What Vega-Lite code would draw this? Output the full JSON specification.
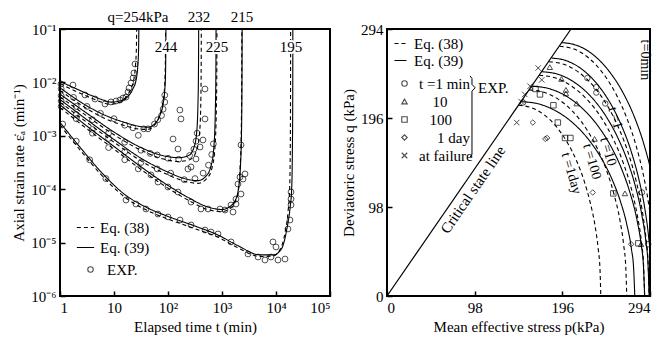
{
"$schema": "https://vega.github.io/schema/vega-lite/v6.json",
"padding": {"left": 10, "top": 8, "right": 5, "bottom": 2},
"background": "white",
"config": {
 "font": "Liberation Serif",
 "view": {"stroke": "black", "strokeWidth": 2},
 "axis": {"grid": false, "domain": false, "tickSize": -5, "tickWidth": 1.5, "tickColor": "black", "labelFont": "Liberation Serif", "labelFontSize": 15, "labelColor": "black", "labelPadding": 9, "titleFont": "Liberation Serif", "titleFontSize": 15, "titleFontWeight": "normal", "titleColor": "black", "titlePadding": 4},
 "legend": {"labelFont": "Liberation Serif", "labelFontSize": 15, "labelColor": "black", "padding": 0, "symbolStrokeColor": "black", "symbolStrokeWidth": 1.1}
},
"datasets": {
 "lc": [
  {"q":"254","e":"39","t":1,"r":0.01047},{"q":"254","e":"39","t":1.995,"r":0.007586},{"q":"254","e":"39","t":3.715,"r":0.005754},{"q":"254","e":"39","t":6.31,"r":0.004677},{"q":"254","e":"39","t":8.913,"r":0.004266},{"q":"254","e":"39","t":12.59,"r":0.004467},{"q":"254","e":"39","t":17.78,"r":0.00537},{"q":"254","e":"39","t":22.39,"r":0.007586},{"q":"254","e":"39","t":25.7,"r":0.01122},{"q":"254","e":"39","t":27.54,"r":0.01995},{"q":"254","e":"39","t":28.51,"r":0.03981},{"q":"254","e":"39","t":28.84,"r":0.1},
  {"q":"254","e":"38","t":1,"r":0.00955},{"q":"254","e":"38","t":1.995,"r":0.006761},{"q":"254","e":"38","t":3.715,"r":0.005129},{"q":"254","e":"38","t":6.31,"r":0.004169},{"q":"254","e":"38","t":8.511,"r":0.00389},{"q":"254","e":"38","t":11.75,"r":0.004074},{"q":"254","e":"38","t":15.85,"r":0.005012},{"q":"254","e":"38","t":20.42,"r":0.007586},{"q":"254","e":"38","t":23.44,"r":0.01175},{"q":"254","e":"38","t":25.12,"r":0.02239},{"q":"254","e":"38","t":26.0,"r":0.04467},{"q":"254","e":"38","t":26.3,"r":0.1},
  {"q":"244","e":"39","t":1,"r":0.007943},{"q":"244","e":"39","t":2.512,"r":0.004169},{"q":"244","e":"39","t":6.31,"r":0.002512},{"q":"244","e":"39","t":15.85,"r":0.001778},{"q":"244","e":"39","t":28.18,"r":0.001514},{"q":"244","e":"39","t":42.66,"r":0.001445},{"q":"244","e":"39","t":57.54,"r":0.001698},{"q":"244","e":"39","t":70.79,"r":0.002399},{"q":"244","e":"39","t":81.28,"r":0.003981},{"q":"244","e":"39","t":87.1,"r":0.007079},{"q":"244","e":"39","t":90.16,"r":0.01585},{"q":"244","e":"39","t":91.62,"r":0.1},
  {"q":"244","e":"38","t":1,"r":0.007079},{"q":"244","e":"38","t":2.512,"r":0.003715},{"q":"244","e":"38","t":6.31,"r":0.002188},{"q":"244","e":"38","t":15.85,"r":0.001549},{"q":"244","e":"38","t":28.18,"r":0.001349},{"q":"244","e":"38","t":41.69,"r":0.001318},{"q":"244","e":"38","t":56.23,"r":0.001585},{"q":"244","e":"38","t":69.18,"r":0.002344},{"q":"244","e":"38","t":79.43,"r":0.003981},{"q":"244","e":"38","t":86.1,"r":0.007943},{"q":"244","e":"38","t":89.13,"r":0.01995},{"q":"244","e":"38","t":90.16,"r":0.1},
  {"q":"232","e":"39","t":1,"r":0.006026},{"q":"232","e":"39","t":3.162,"r":0.00263},{"q":"232","e":"39","t":10,"r":0.001175},{"q":"232","e":"39","t":31.62,"r":0.0006026},{"q":"232","e":"39","t":79.43,"r":0.0004266},{"q":"232","e":"39","t":158.5,"r":0.000389},{"q":"232","e":"39","t":239.9,"r":0.0004266},{"q":"232","e":"39","t":302,"r":0.0006026},{"q":"232","e":"39","t":338.8,"r":0.001122},{"q":"232","e":"39","t":358.9,"r":0.003981},{"q":"232","e":"39","t":367.3,"r":0.01995},{"q":"232","e":"39","t":369.8,"r":0.1},
  {"q":"232","e":"38","t":1,"r":0.00537},{"q":"232","e":"38","t":3.162,"r":0.002344},{"q":"232","e":"38","t":10,"r":0.001047},{"q":"232","e":"38","t":31.62,"r":0.000537},{"q":"232","e":"38","t":79.43,"r":0.0003715},{"q":"232","e":"38","t":158.5,"r":0.0003311},{"q":"232","e":"38","t":251.2,"r":0.0003548},{"q":"232","e":"38","t":331.1,"r":0.0005012},{"q":"232","e":"38","t":380.2,"r":0.001},{"q":"232","e":"38","t":402.7,"r":0.003162},{"q":"232","e":"38","t":411,"r":0.01585},{"q":"232","e":"38","t":414,"r":0.1},
  {"q":"225","e":"39","t":1,"r":0.004786},{"q":"225","e":"39","t":3.162,"r":0.001995},{"q":"225","e":"39","t":10,"r":0.0008511},{"q":"225","e":"39","t":31.62,"r":0.0003802},{"q":"225","e":"39","t":100,"r":0.0002089},{"q":"225","e":"39","t":199.5,"r":0.0001585},{"q":"225","e":"39","t":354.8,"r":0.0001445},{"q":"225","e":"39","t":501.2,"r":0.0001738},{"q":"225","e":"39","t":631,"r":0.0002818},{"q":"225","e":"39","t":707.9,"r":0.000631},{"q":"225","e":"39","t":753.4,"r":0.003162},{"q":"225","e":"39","t":770.9,"r":0.01585},{"q":"225","e":"39","t":776.2,"r":0.1},
  {"q":"225","e":"38","t":1,"r":0.004266},{"q":"225","e":"38","t":3.162,"r":0.001778},{"q":"225","e":"38","t":10,"r":0.0007586},{"q":"225","e":"38","t":31.62,"r":0.0003388},{"q":"225","e":"38","t":100,"r":0.0001862},{"q":"225","e":"38","t":199.5,"r":0.0001413},{"q":"225","e":"38","t":354.8,"r":0.0001288},{"q":"225","e":"38","t":524.8,"r":0.0001585},{"q":"225","e":"38","t":660.7,"r":0.000263},{"q":"225","e":"38","t":741.3,"r":0.000631},{"q":"225","e":"38","t":785.2,"r":0.003162},{"q":"225","e":"38","t":801.7,"r":0.01585},{"q":"225","e":"38","t":807.2,"r":0.1},
  {"q":"215","e":"39","t":1,"r":0.003802},{"q":"215","e":"39","t":3.162,"r":0.001514},{"q":"215","e":"39","t":10,"r":0.000631},{"q":"215","e":"39","t":31.62,"r":0.000263},{"q":"215","e":"39","t":100,"r":0.0001175},{"q":"215","e":"39","t":251.2,"r":0.00006761},{"q":"215","e":"39","t":501.2,"r":0.00004786},{"q":"215","e":"39","t":1000,"r":0.00004169},{"q":"215","e":"39","t":1413,"r":0.00004786},{"q":"215","e":"39","t":1778,"r":0.0000631},{"q":"215","e":"39","t":1995,"r":0.0000955},{"q":"215","e":"39","t":2188,"r":0.0002512},{"q":"215","e":"39","t":2291,"r":0.001},{"q":"215","e":"39","t":2344,"r":0.01},{"q":"215","e":"39","t":2360,"r":0.1},
  {"q":"215","e":"38","t":1,"r":0.003388},{"q":"215","e":"38","t":3.162,"r":0.001349},{"q":"215","e":"38","t":10,"r":0.0005623},{"q":"215","e":"38","t":31.62,"r":0.0002344},{"q":"215","e":"38","t":100,"r":0.0001047},{"q":"215","e":"38","t":251.2,"r":0.00006026},{"q":"215","e":"38","t":501.2,"r":0.00004266},{"q":"215","e":"38","t":1000,"r":0.00003802},{"q":"215","e":"38","t":1413,"r":0.00004365},{"q":"215","e":"38","t":1778,"r":0.00006026},{"q":"215","e":"38","t":1995,"r":0.00008913},{"q":"215","e":"38","t":2163,"r":0.0002512},{"q":"215","e":"38","t":2265,"r":0.001},{"q":"215","e":"38","t":2317,"r":0.01},{"q":"215","e":"38","t":2333,"r":0.1},
  {"q":"195","e":"39","t":1,"r":0.001778},{"q":"195","e":"39","t":2.512,"r":0.0005623},{"q":"195","e":"39","t":6.31,"r":0.0001905},{"q":"195","e":"39","t":15.85,"r":0.00007943},{"q":"195","e":"39","t":39.81,"r":0.00004571},{"q":"195","e":"39","t":100,"r":0.0000309},{"q":"195","e":"39","t":316.2,"r":0.00002042},{"q":"195","e":"39","t":851.1,"r":0.0000138},{"q":"195","e":"39","t":1995,"r":0.00000871},{"q":"195","e":"39","t":5012,"r":0.000005888},{"q":"195","e":"39","t":8913,"r":0.000005888},{"q":"195","e":"39","t":12590,"r":0.000007586},{"q":"195","e":"39","t":15850,"r":0.00001778},{"q":"195","e":"39","t":18200,"r":0.00004467},{"q":"195","e":"39","t":19500,"r":0.0001},{"q":"195","e":"39","t":20090,"r":0.0005012},{"q":"195","e":"39","t":20420,"r":0.005012},{"q":"195","e":"39","t":20510,"r":0.1},
  {"q":"195","e":"38","t":1,"r":0.001585},{"q":"195","e":"38","t":2.512,"r":0.0005012},{"q":"195","e":"38","t":6.31,"r":0.0001698},{"q":"195","e":"38","t":15.85,"r":0.00007079},{"q":"195","e":"38","t":39.81,"r":0.00004074},{"q":"195","e":"38","t":100,"r":0.00002754},{"q":"195","e":"38","t":316.2,"r":0.0000182},{"q":"195","e":"38","t":851.1,"r":0.00001259},{"q":"195","e":"38","t":1995,"r":0.000007943},{"q":"195","e":"38","t":5012,"r":0.000005495},{"q":"195","e":"38","t":8913,"r":0.000005623},{"q":"195","e":"38","t":12020,"r":0.000007586},{"q":"195","e":"38","t":14790,"r":0.00001585},{"q":"195","e":"38","t":16790,"r":0.00003981},{"q":"195","e":"38","t":17870,"r":0.0001},{"q":"195","e":"38","t":18370,"r":0.0005012},{"q":"195","e":"38","t":18580,"r":0.005012},{"q":"195","e":"38","t":18660,"r":0.1}
 ],
 "le": [
  {"t":1.045,"r":0.00933},{"t":1.74,"r":0.00893},{"t":2.9,"r":0.00581},{"t":4.45,"r":0.00489},{"t":6.81,"r":0.00394},{"t":8.79,"r":0.0043},{"t":10.9,"r":0.00449},{"t":12.9,"r":0.00468},{"t":14.7,"r":0.0051},{"t":16.7,"r":0.00533},{"t":18.2,"r":0.00661},{"t":19,"r":0.00785},{"t":20.7,"r":0.00975},{"t":22.5,"r":0.0121},{"t":23.4,"r":0.015},{"t":24.5,"r":0.0221},
  {"t":1.05,"r":0.00759},{"t":1.78,"r":0.00525},{"t":3.16,"r":0.00355},{"t":5.62,"r":0.00263},{"t":10,"r":0.00209},{"t":15.8,"r":0.00158},{"t":22.4,"r":0.00141},{"t":28.2,"r":0.00102},{"t":35.5,"r":0.00135},{"t":42.7,"r":0.00135},{"t":56.2,"r":0.00166},{"t":64.6,"r":0.002},{"t":75.9,"r":0.0024},{"t":81.3,"r":0.00316},{"t":87.1,"r":0.00427},{"t":87.1,"r":0.00575},
  {"t":166,"r":0.00304},{"t":174,"r":0.00207},{"t":484,"r":0.00752},{"t":484,"r":0.00207},{"t":445,"r":0.000834},{"t":124,"r":0.000871},{"t":153,"r":0.000566},
  {"t":1.05,"r":0.00562},{"t":2,"r":0.00355},{"t":3.98,"r":0.002},{"t":7.94,"r":0.00112},{"t":15.8,"r":0.000759},{"t":31.6,"r":0.000537},{"t":46.8,"r":0.000468},{"t":63.1,"r":0.000437},{"t":100,"r":0.00038},{"t":158,"r":0.000363},{"t":251,"r":0.000427},{"t":302,"r":0.000562},{"t":331,"r":0.000794},{"t":347,"r":0.00112},{"t":392,"r":0.000617},{"t":330,"r":0.000368},{"t":267,"r":0.000261},{"t":234,"r":0.000239},
  {"t":1.05,"r":0.00447},{"t":2,"r":0.00251},{"t":3.98,"r":0.00132},{"t":7.94,"r":0.000891},{"t":15.8,"r":0.000501},{"t":31.6,"r":0.000316},{"t":63.1,"r":0.00024},{"t":112,"r":0.0002},{"t":200,"r":0.000151},{"t":316,"r":0.000158},{"t":447,"r":0.0002},{"t":562,"r":0.000282},{"t":646,"r":0.000447},{"t":692,"r":0.000708},
  {"t":1.05,"r":0.00355},{"t":2,"r":0.00209},{"t":3.98,"r":0.00112},{"t":7.94,"r":0.000603},{"t":15.8,"r":0.000355},{"t":28.2,"r":0.00024},{"t":48.4,"r":0.000185},{"t":65.3,"r":0.000136},{"t":100,"r":0.00011},{"t":153,"r":0.0000887},{"t":267,"r":0.0000575},{"t":408,"r":0.0000426},{"t":551,"r":0.0000426},{"t":918,"r":0.0000426},{"t":1136,"r":0.0000407},{"t":1600,"r":0.0000374},{"t":1816,"r":0.0000528},{"t":1816,"r":0.0000655},{"t":2249,"r":0.0000813},{"t":2449,"r":0.000155},{"t":2667,"r":0.000193},{"t":2249,"r":0.000673},{"t":1469,"r":0.0000506},{"t":1977,"r":0.000125},{"t":2153,"r":0.000169},
  {"t":1.12,"r":0.00166},{"t":2,"r":0.000794},{"t":3.55,"r":0.000355},{"t":7.08,"r":0.000158},{"t":16.7,"r":0.0000628},{"t":25.5,"r":0.0000528},{"t":39.1,"r":0.0000426},{"t":65.3,"r":0.0000343},{"t":100,"r":0.0000302},{"t":167,"r":0.0000265},{"t":267,"r":0.0000214},{"t":484,"r":0.0000172},{"t":625,"r":0.0000158},{"t":843,"r":0.0000145},{"t":1469,"r":0.0000103},{"t":3030,"r":0.00000612},{"t":4645,"r":0.00000537},{"t":6252,"r":0.00000472},{"t":8072,"r":0.00000537},{"t":8790,"r":0.0000103},{"t":10000,"r":0.00000828},{"t":10890,"r":0.00000472},{"t":14690,"r":0.00000493},{"t":16670,"r":0.000018},{"t":18150,"r":0.0000265},{"t":18970,"r":0.0000506},{"t":18970,"r":0.0000655},{"t":18970,"r":0.0000887}
 ],
 "ll": [
  {"t":27.8,"r":0.168,"txt":"q=254kPa"},{"t":375,"r":0.168,"txt":"232"},{"t":2345,"r":0.168,"txt":"215"},
  {"t":91.8,"r":0.046,"txt":"244"},{"t":808,"r":0.046,"txt":"225"},{"t":18970,"r":0.046,"txt":"195"}
 ],
 "csl": [{"p":0,"q":0},{"p":205.7,"q":294}],
 "rc": [
  {"id":"0","e":"39","p":195.5,"q":279},{"id":"0","e":"39","p":212.7,"q":275.8},{"id":"0","e":"39","p":229.9,"q":266.1},{"id":"0","e":"39","p":247,"q":249.1},{"id":"0","e":"39","p":264.2,"q":223.2},{"id":"0","e":"39","p":275.7,"q":199.2},{"id":"0","e":"39","p":287.1,"q":167.4},{"id":"0","e":"39","p":295.1,"q":137.6},{"id":"0","e":"39","p":302,"q":102.6},{"id":"0","e":"39","p":310,"q":0},
  {"id":"0","e":"38","p":193,"q":275},{"id":"0","e":"38","p":209.1,"q":271.9},{"id":"0","e":"38","p":225.1,"q":262.3},{"id":"0","e":"38","p":241.2,"q":245.6},{"id":"0","e":"38","p":257.2,"q":220},{"id":"0","e":"38","p":267.9,"q":196.4},{"id":"0","e":"38","p":278.6,"q":165},{"id":"0","e":"38","p":286.1,"q":135.6},{"id":"0","e":"38","p":292.5,"q":101.1},{"id":"0","e":"38","p":296.8,"q":66.9},{"id":"0","e":"38","p":300,"q":0},
  {"id":"1","e":"39","p":184,"q":262},{"id":"1","e":"39","p":200.8,"q":259},{"id":"1","e":"39","p":217.6,"q":249.9},{"id":"1","e":"39","p":234.4,"q":234},{"id":"1","e":"39","p":251.2,"q":209.6},{"id":"1","e":"39","p":262.4,"q":187.1},{"id":"1","e":"39","p":273.6,"q":157.2},{"id":"1","e":"39","p":281.4,"q":129.2},{"id":"1","e":"39","p":288.2,"q":96.3},{"id":"1","e":"39","p":292.6,"q":63.7},{"id":"1","e":"39","p":294.9,"q":37},{"id":"1","e":"39","p":296,"q":0},
  {"id":"1","e":"38","p":181,"q":258},{"id":"1","e":"38","p":197.8,"q":255.1},{"id":"1","e":"38","p":214.6,"q":246.1},{"id":"1","e":"38","p":231.4,"q":230.4},{"id":"1","e":"38","p":248.2,"q":206.4},{"id":"1","e":"38","p":259.4,"q":184.2},{"id":"1","e":"38","p":270.6,"q":154.8},{"id":"1","e":"38","p":278.4,"q":127.2},{"id":"1","e":"38","p":285.2,"q":94.8},{"id":"1","e":"38","p":289.6,"q":62.7},{"id":"1","e":"38","p":291.9,"q":36.4},{"id":"1","e":"38","p":293,"q":0},
  {"id":"10","e":"39","p":173,"q":247},{"id":"10","e":"39","p":191,"q":244.2},{"id":"10","e":"39","p":209,"q":235.6},{"id":"10","e":"39","p":227,"q":220.6},{"id":"10","e":"39","p":245,"q":197.6},{"id":"10","e":"39","p":257,"q":176.4},{"id":"10","e":"39","p":269,"q":148.2},{"id":"10","e":"39","p":277.4,"q":121.8},{"id":"10","e":"39","p":284.6,"q":90.8},{"id":"10","e":"39","p":289.4,"q":60},{"id":"10","e":"39","p":291.8,"q":34.9},{"id":"10","e":"39","p":293,"q":0},
  {"id":"10","e":"38","p":170,"q":243},{"id":"10","e":"38","p":187.7,"q":240.3},{"id":"10","e":"38","p":205.4,"q":231.8},{"id":"10","e":"38","p":223.1,"q":217},{"id":"10","e":"38","p":240.8,"q":194.4},{"id":"10","e":"38","p":252.6,"q":173.5},{"id":"10","e":"38","p":264.4,"q":145.8},{"id":"10","e":"38","p":272.7,"q":119.8},{"id":"10","e":"38","p":279.7,"q":89.3},{"id":"10","e":"38","p":284.5,"q":59.1},{"id":"10","e":"38","p":286.8,"q":34.3},{"id":"10","e":"38","p":288,"q":0},
  {"id":"100","e":"39","p":162,"q":231},{"id":"100","e":"39","p":180.9,"q":228.4},{"id":"100","e":"39","p":199.8,"q":220.4},{"id":"100","e":"39","p":218.7,"q":206.3},{"id":"100","e":"39","p":237.6,"q":184.8},{"id":"100","e":"39","p":250.2,"q":165},{"id":"100","e":"39","p":262.8,"q":138.6},{"id":"100","e":"39","p":271.6,"q":113.9},{"id":"100","e":"39","p":279.2,"q":84.9},{"id":"100","e":"39","p":284.2,"q":56.2},{"id":"100","e":"39","p":286.7,"q":32.6},{"id":"100","e":"39","p":288,"q":0},
  {"id":"100","e":"38","p":159,"q":227},{"id":"100","e":"38","p":175.4,"q":224.4},{"id":"100","e":"38","p":191.7,"q":216.5},{"id":"100","e":"38","p":208.1,"q":202.7},{"id":"100","e":"38","p":224.4,"q":181.6},{"id":"100","e":"38","p":235.3,"q":162.1},{"id":"100","e":"38","p":246.2,"q":136.2},{"id":"100","e":"38","p":253.8,"q":111.9},{"id":"100","e":"38","p":260.4,"q":83.4},{"id":"100","e":"38","p":264.7,"q":55.2},{"id":"100","e":"38","p":266.9,"q":32},{"id":"100","e":"38","p":268,"q":0},
  {"id":"1d","e":"39","p":150,"q":214},{"id":"1d","e":"39","p":169.1,"q":211.6},{"id":"1d","e":"39","p":188.1,"q":204.1},{"id":"1d","e":"39","p":207.2,"q":191.1},{"id":"1d","e":"39","p":226.2,"q":171.2},{"id":"1d","e":"39","p":238.9,"q":152.8},{"id":"1d","e":"39","p":251.6,"q":128.4},{"id":"1d","e":"39","p":260.5,"q":105.5},{"id":"1d","e":"39","p":268.1,"q":78.7},{"id":"1d","e":"39","p":273.2,"q":52},{"id":"1d","e":"39","p":275.7,"q":30.2},{"id":"1d","e":"39","p":277,"q":0},
  {"id":"1d","e":"38","p":147,"q":210},{"id":"1d","e":"38","p":160.8,"q":207.6},{"id":"1d","e":"38","p":174.6,"q":200.3},{"id":"1d","e":"38","p":188.4,"q":187.5},{"id":"1d","e":"38","p":202.2,"q":168},{"id":"1d","e":"38","p":211.4,"q":150},{"id":"1d","e":"38","p":220.6,"q":126},{"id":"1d","e":"38","p":227,"q":103.6},{"id":"1d","e":"38","p":232.6,"q":77.2},{"id":"1d","e":"38","p":236.2,"q":51.1},{"id":"1d","e":"38","p":238.1,"q":29.6},{"id":"1d","e":"38","p":239,"q":0}
 ],
 "re": [
  {"s":"fail","p":169,"q":251},{"s":"fail","p":173,"q":238},{"s":"fail","p":160,"q":231},{"s":"fail","p":154,"q":222},{"s":"fail","p":150,"q":214},{"s":"fail","p":145,"q":191},
  {"s":"1min","p":152,"q":213},{"s":"1min","p":224,"q":240},{"s":"1min","p":234,"q":230},{"s":"1min","p":234,"q":224},{"s":"1min","p":244,"q":212},{"s":"1min","p":285,"q":114},{"s":"1min","p":292,"q":57},
  {"s":"10","p":182,"q":252},{"s":"10","p":195,"q":239},{"s":"10","p":200,"q":227},{"s":"10","p":200,"q":223},{"s":"10","p":212,"q":212},{"s":"10","p":232,"q":173},{"s":"10","p":266,"q":113},{"s":"10","p":284,"q":57},
  {"s":"100","p":166,"q":228},{"s":"100","p":171,"q":222},{"s":"100","p":186,"q":210},{"s":"100","p":191,"q":191},{"s":"100","p":199,"q":174},{"s":"100","p":205,"q":174},{"s":"100","p":253,"q":113},{"s":"100","p":281,"q":58},
  {"s":"1day","p":163,"q":191},{"s":"1day","p":177,"q":173},{"s":"1day","p":179,"q":174},{"s":"1day","p":230,"q":114},{"s":"1day","p":273,"q":57}
 ],
 "brace": [{"p":92.8,"q":242.4,"k":1},{"p":95,"q":239.5,"k":2},{"p":95,"q":233,"k":3},{"p":98.5,"q":229.3,"k":4},{"p":95,"q":225.5,"k":5},{"p":95,"q":156,"k":6},{"p":92.8,"q":152.5,"k":7}],
 "rl": [
  {"p":288,"q":260,"txt":"t=0min","k":"v"},
  {"p":255,"q":196,"txt":"t =1","k":"a"},{"p":247,"q":159,"txt":"t =10","k":"a"},{"p":229,"q":148,"txt":"t =100","k":"a"},{"p":206,"q":135,"txt":"t =1day","k":"a"},
  {"p":96,"q":117,"txt":"Critical state line","k":"c"},
  {"p":101.7,"q":229.3,"txt":"EXP.","k":"e"}
 ]
},
"hconcat": [
 {
  "width": 270, "height": 267,
  "layer": [
   {
    "data": {"name": "lc"},
    "mark": {"type": "line", "color": "black", "strokeWidth": 1.1, "interpolate": "monotone"},
    "encoding": {
     "x": {"field": "t", "type": "quantitative", "scale": {"type": "log", "domain": [1, 100000], "nice": false},
       "axis": {"values": [1, 10, 100, 1000, 10000, 100000], "labelExpr": "datum.value == 1 ? '1' : datum.value == 10 ? '10' : datum.value == 100 ? '10²' : datum.value == 1000 ? '10³' : datum.value == 10000 ? '10⁴' : '10⁵'", "title": "Elapsed time t  (min)"}},
     "y": {"field": "r", "type": "quantitative", "scale": {"type": "log", "domain": [0.000001, 0.1], "nice": false},
       "axis": {"values": [0.000001, 0.00001, 0.0001, 0.001, 0.01, 0.1], "labelExpr": "datum.value > 0.05 ? '10⁻¹' : datum.value > 0.005 ? '10⁻²' : datum.value > 0.0005 ? '10⁻³' : datum.value > 0.00005 ? '10⁻⁴' : datum.value > 0.000005 ? '10⁻⁵' : '10⁻⁶'", "title": "Axial strain rate ε̇ₐ (min⁻¹)"}},
     "detail": {"field": "q"},
     "strokeDash": {"field": "e", "type": "nominal", "scale": {"domain": ["38", "39"], "range": [[4, 3], [1, 0]]},
       "legend": {"orient": "none", "legendX": 16, "legendY": 189, "title": null, "symbolType": "stroke", "symbolSize": 300, "rowPadding": 2, "labelOffset": 5, "labelExpr": "'Eq. (' + datum.label + ')'"}}
    }
   },
   {
    "data": {"name": "le"},
    "mark": {"type": "point", "filled": false, "color": "black", "size": 34, "strokeWidth": 1},
    "encoding": {
     "x": {"field": "t", "type": "quantitative"},
     "y": {"field": "r", "type": "quantitative"},
     "shape": {"datum": "EXP.", "scale": {"range": ["circle"]},
       "legend": {"orient": "none", "legendX": 23, "legendY": 233, "title": null, "symbolSize": 30, "symbolFillColor": "transparent", "labelOffset": 9}}
    }
   },
   {
    "data": {"name": "ll"},
    "mark": {"type": "text", "fontSize": 15, "baseline": "middle", "stroke": "white", "strokeWidth": 4},
    "encoding": {"x": {"field": "t", "type": "quantitative"}, "y": {"field": "r", "type": "quantitative"}, "text": {"field": "txt"}}
   },
   {
    "data": {"name": "ll"},
    "mark": {"type": "text", "fontSize": 15, "baseline": "middle", "color": "black"},
    "encoding": {"x": {"field": "t", "type": "quantitative"}, "y": {"field": "r", "type": "quantitative"}, "text": {"field": "txt"}}
   }
  ]
 },
 {
  "width": 263, "height": 267,
  "layer": [
   {
    "data": {"name": "csl"},
    "mark": {"type": "line", "color": "black", "strokeWidth": 1.2},
    "encoding": {
     "x": {"field": "p", "type": "quantitative", "scale": {"domain": [0, 294], "nice": false, "zero": false}, "axis": {"values": [0, 98, 196, 294], "title": "Mean effective stress  p(kPa)"}},
     "y": {"field": "q", "type": "quantitative", "scale": {"domain": [0, 294], "nice": false}, "axis": {"values": [0, 98, 196, 294], "title": "Deviatoric stress q (kPa)"}}
    }
   },
   {
    "data": {"name": "rc"},
    "mark": {"type": "line", "color": "black", "strokeWidth": 1.1, "interpolate": "monotone", "clip": true},
    "encoding": {
     "x": {"field": "p", "type": "quantitative"},
     "y": {"field": "q", "type": "quantitative"},
     "detail": {"field": "id"},
     "strokeDash": {"field": "e", "type": "nominal", "scale": {"domain": ["38", "39"], "range": [[4, 3], [1, 0]]},
       "legend": {"orient": "none", "legendX": 6, "legendY": 7, "title": null, "symbolType": "stroke", "symbolSize": 144, "rowPadding": 1, "labelOffset": 6, "labelExpr": "'Eq. (' + datum.label + ')'"}}
    }
   },
   {
    "data": {"name": "re"},
    "mark": {"type": "point", "filled": false, "color": "black", "size": 30, "strokeWidth": 1},
    "encoding": {
     "x": {"field": "p", "type": "quantitative"},
     "y": {"field": "q", "type": "quantitative"},
     "shape": {"field": "s", "type": "nominal", "scale": {"domain": ["1min", "10", "100", "1day", "fail"], "range": ["circle", "triangle-up", "square", "diamond", "M-1,-1L1,1M-1,1L1,-1"]},
       "legend": {"orient": "none", "legendX": 10, "legendY": 47, "title": null, "symbolSize": 30, "symbolFillColor": "transparent", "rowPadding": 2, "labelOffset": 7,
         "labelExpr": "datum.label == '1min' ? 't =1 min' : datum.label == '10' ? '\u200b\u2007\u2009\u200910' : datum.label == '100' ? '\u200b\u2007\u2009100' : datum.label == '1day' ? '\u200b\u2007\u2007\u20091 day' : 'at failure'"}}
    }
   },
   {
    "data": {"name": "brace"},
    "mark": {"type": "line", "color": "black", "strokeWidth": 1},
    "encoding": {"x": {"field": "p", "type": "quantitative"}, "y": {"field": "q", "type": "quantitative"}, "order": {"field": "k", "type": "quantitative"}}
   },
   {
    "data": {"name": "rl"},
    "transform": [{"filter": "datum.k == 'e'"}],
    "mark": {"type": "text", "fontSize": 15, "align": "left", "baseline": "middle", "color": "black"},
    "encoding": {"x": {"field": "p", "type": "quantitative"}, "y": {"field": "q", "type": "quantitative"}, "text": {"field": "txt"}}
   },
   {
    "data": {"name": "rl"},
    "transform": [{"filter": "datum.k == 'v'"}],
    "mark": {"type": "text", "fontSize": 14, "angle": 90, "baseline": "middle", "color": "black"},
    "encoding": {"x": {"field": "p", "type": "quantitative"}, "y": {"field": "q", "type": "quantitative"}, "text": {"field": "txt"}}
   },
   {
    "data": {"name": "rl"},
    "transform": [{"filter": "datum.k == 'a'"}],
    "mark": {"type": "text", "fontSize": 14, "angle": 74, "baseline": "middle", "color": "black"},
    "encoding": {"x": {"field": "p", "type": "quantitative"}, "y": {"field": "q", "type": "quantitative"}, "text": {"field": "txt"}}
   },
   {
    "data": {"name": "rl"},
    "transform": [{"filter": "datum.k == 'c'"}],
    "mark": {"type": "text", "fontSize": 15, "angle": -55.5, "baseline": "middle", "color": "black"},
    "encoding": {"x": {"field": "p", "type": "quantitative"}, "y": {"field": "q", "type": "quantitative"}, "text": {"field": "txt"}}
   }
  ]
 }
],
"spacing": 57,
"bounds": "flush",
"resolve": {"scale": {"x": "independent", "y": "independent", "strokeDash": "independent", "shape": "independent"}, "legend": {"strokeDash": "independent", "shape": "independent"}}
}
